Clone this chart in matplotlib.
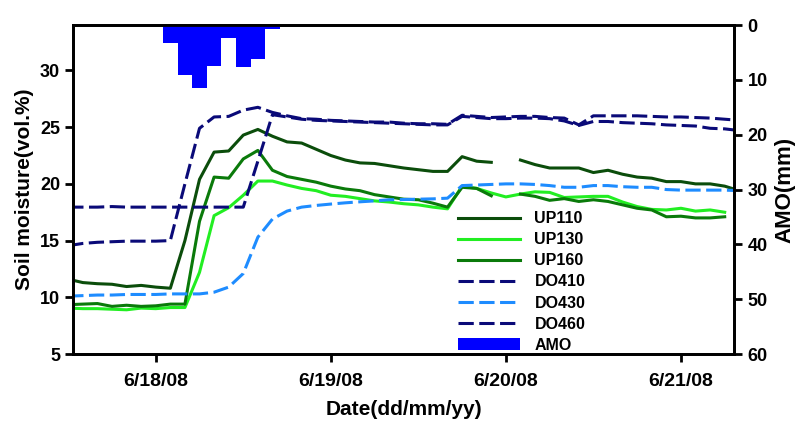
import numpy as np
import pandas as pd
import matplotlib
matplotlib.use('Agg')
import matplotlib.pyplot as plt

plt.rcParams['font.family'] = ['Liberation Sans', 'DejaVu Sans']
plt.rcParams['font.weight'] = 'bold'
plt.rcParams['axes.labelweight'] = 'bold'

nan = np.nan

# 2-hourly readings, 6/17 12:00 to 6/21 08:00
times = pd.date_range('2008-06-17 12:00', periods=47, freq='2h')

up110 = [11.6, 11.3, 11.2, 11.15, 10.95, 11.05, 10.9, 10.8, 15.0, 20.4,
         22.8, 22.9, 24.3, 24.8, 24.2, 23.7, 23.6, 23.05, 22.5, 22.1,
         21.85, 21.8, 21.6, 21.4, 21.25, 21.1, 21.1, 22.4, 22.0, 21.9,
         nan, 22.1, 21.7, 21.4, 21.4, 21.4, 21.0, 21.2, 20.85, 20.6,
         20.5, 20.2, 20.2, 20.0, 20.0, 19.8, 19.4]
up130 = [9.05, 9.0, 9.0, 8.95, 8.9, 9.05, 9.0, 9.1, 9.1, 12.2,
         17.2, 17.9, 19.0, 20.25, 20.25, 19.9, 19.6, 19.4, 19.0, 18.9,
         18.7, 18.5, 18.4, 18.25, 18.15, 17.95, 17.8, 19.8, 19.6, 19.2,
         18.85, 19.1, 19.3, 19.25, 18.8, 18.85, 18.9, 18.9, 18.4, 18.0,
         17.75, 17.7, 17.85, 17.6, 17.7, 17.5, nan]
up160 = [9.35, 9.4, 9.45, 9.2, 9.3, 9.2, 9.25, 9.4, 9.4, 16.7,
         20.6, 20.5, 22.2, 22.95, 21.2, 20.65, 20.4, 20.15, 19.8, 19.55,
         19.4, 19.05, 18.85, 18.65, 18.6, 18.3, 17.95, 19.7, 19.6, 18.95,
         nan, 19.1, 18.9, 18.55, 18.7, 18.45, 18.6, 18.45, 18.15, 17.85,
         17.7, 17.1, 17.15, 17.0, 17.0, 17.1, nan]
do410 = [14.55, 14.75, 14.85, 14.9, 14.95, 14.95, 14.95, 15.0, 20.0, 24.9,
         25.9, 25.95, 26.5, 26.75, 26.3, 26.0, 25.75, 25.7, 25.6, 25.55,
         25.5, 25.45, 25.45, 25.35, 25.3, 25.3, 25.25, 26.05, 25.95, 25.85,
         25.9, 25.95, 25.95, 25.85, 25.8, 25.2, 26.0, 26.0, 26.0, 26.0,
         25.95, 25.9, 25.9, 25.85, 25.8, 25.7, 25.6]
do430 = [10.1, 10.15, 10.2, 10.2, 10.25, 10.25, 10.25, 10.3, 10.3, 10.3,
         10.45, 10.9, 12.1, 15.3, 16.9, 17.6, 17.95, 18.1, 18.22, 18.33,
         18.42, 18.5, 18.6, 18.62, 18.65, 18.68, 18.74, 19.85, 19.9, 19.95,
         20.0, 20.0, 19.95, 19.85, 19.7, 19.7, 19.85, 19.85, 19.75, 19.7,
         19.7, 19.5, 19.45, 19.45, 19.45, 19.45, 19.4]
do460 = [17.95, 17.95, 17.95, 18.0, 17.95, 17.95, 17.95, 17.95, 17.95, 17.95,
         17.95, 17.95, 17.95, 22.0, 26.1, 25.9, 25.7, 25.6, 25.55, 25.5,
         25.45, 25.4, 25.35, 25.3, 25.25, 25.2, 25.2, 25.95, 25.85, 25.75,
         25.75, 25.8, 25.8, 25.75, 25.55, 25.15, 25.5, 25.5, 25.4, 25.35,
         25.3, 25.2, 25.15, 25.1, 24.9, 24.85, 24.7]

# rainfall (mm) per 2 hours
amo_times = pd.date_range('2008-06-18 00:00', periods=9, freq='2h')
amo = [0.25, 3.2, 9.1, 11.5, 7.4, 2.4, 7.7, 6.1, 0.7]

xtick_dates = pd.to_datetime(['2008-06-18', '2008-06-19', '2008-06-20', '2008-06-21'])
xtick_labels = ['6/18/08', '6/19/08', '6/20/08', '6/21/08']

fig = plt.figure(figsize=(8.03, 4.25), dpi=100)
ax = fig.add_axes([0.0913, 0.167, 0.823, 0.774])
ax2 = ax.twinx()

lw = 2.2
dash = (5, 1.8)
ax.plot(times, up110, color='#0b4d0b', lw=lw, label='UP110')
ax.plot(times, up130, color='#22ee22', lw=lw, label='UP130')
ax.plot(times, up160, color='#0a7a0a', lw=lw, label='UP160')
ax.plot(times, do410, color='#0a0a78', lw=lw, dashes=dash, label='DO410')
ax.plot(times, do430, color='#1e8cff', lw=lw, dashes=dash, label='DO430')
ax.plot(times, do460, color='#0a0a78', lw=lw, dashes=dash, label='DO460')

ax2.bar(amo_times, amo, width=2 / 24, color='#0000ff', label='AMO')
ax2.set_ylim(60, 0)  # rain hangs from the top

ax.set_xlim(pd.Timestamp('2008-06-17 12:42'), pd.Timestamp('2008-06-21 07:18'))
ax.set_ylim(5, 34)
ax.set_yticks([5, 10, 15, 20, 25, 30])
ax2.set_yticks([0, 10, 20, 30, 40, 50, 60])
ax.set_xticks(xtick_dates)
ax.set_xticklabels(xtick_labels)

for a in (ax, ax2):
    for s in a.spines.values():
        s.set_linewidth(2)
    a.tick_params(direction='out', length=6, width=2, labelsize=13)
ax.tick_params(axis='x', labelsize=14, pad=8)

ax.set_xlabel('Date(dd/mm/yy)', fontsize=15, labelpad=7)
ax.set_ylabel('Soil moisture(vol.%)', fontsize=15, labelpad=4)
ax2.set_ylabel('AMO(mm)', fontsize=16, labelpad=5)

h1, l1 = ax.get_legend_handles_labels()
h2, l2 = ax2.get_legend_handles_labels()
fig.legend(h1 + h2, l1 + l2, loc='upper left', bbox_to_anchor=(0.570, 0.503),
           frameon=False, fontsize=11.5, handlelength=3.9, handletextpad=0.9,
           labelspacing=0.38, borderpad=0, borderaxespad=0)

fig.savefig('out.png', dpi=100)
